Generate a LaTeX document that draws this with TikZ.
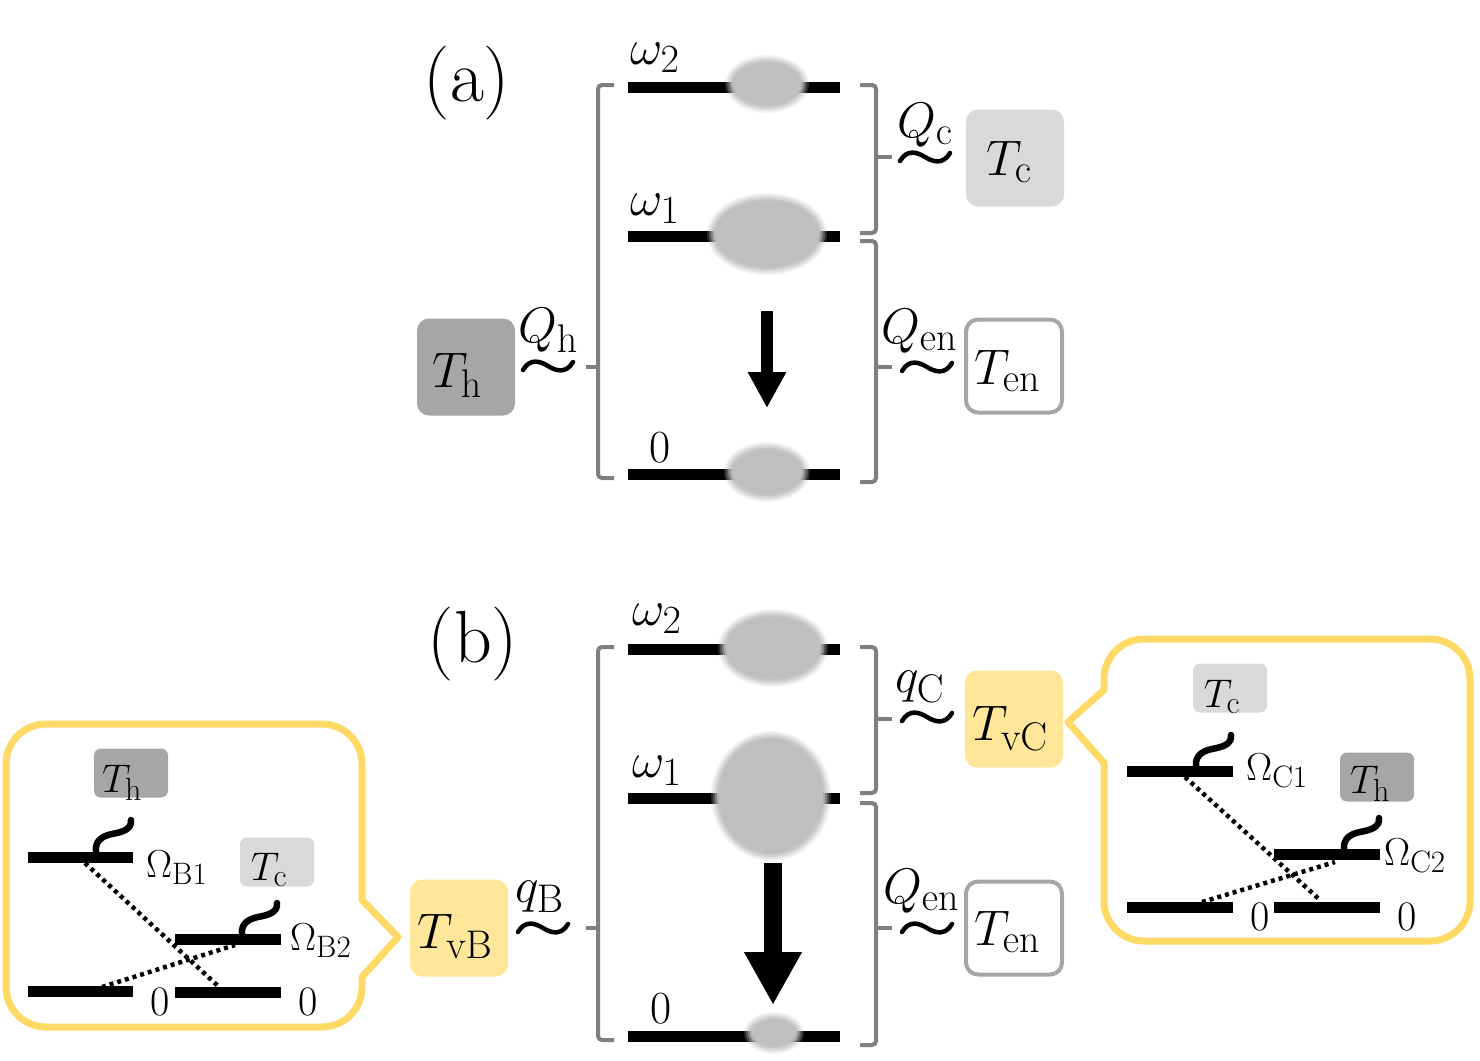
\RequirePackage{fix-cm}
\documentclass[tikz,border=0pt]{standalone}
\usetikzlibrary{arrows.meta}
\definecolor{thc}{HTML}{A6A6A6}
\definecolor{tcc}{HTML}{D9D9D9}
\definecolor{tvc}{HTML}{FFE699}
\definecolor{callc}{HTML}{FFD966}
\definecolor{brk}{HTML}{7F7F7F}
\definecolor{blobc}{HTML}{BFBFBF}
\DeclareMathSizes{50}{50}{40}{30}
\DeclareMathSizes{40}{40}{32}{24}
\DeclareMathSizes{39}{39}{31}{23}
\newcommand\fbig{\fontsize{50}{56}\selectfont}
\newcommand\fzero{\fontsize{46}{52}\selectfont}
\newcommand\fsT{\fontsize{40}{44}\selectfont}
\newcommand\fsO{\fontsize{39}{44}\selectfont}
\newcommand\fszero{\fontsize{42}{46}\selectfont}
\newcommand\fhuge{\fontsize{74}{80}\selectfont}
\newcommand\blobat[4]{\foreach \dd/\oo in {5/0.2,3/0.3,1/0.45,-1/0.7,-3/1}{\fill[blobc,opacity=\oo] (#1,#2) ellipse [x radius={#3+\dd}, y radius={#4+\dd}];}}
\newcommand\mtil[2]{\draw[tildeline, shift={(#1,#2)}] (-25,4) .. controls (-18,-8) and (-8,-5) .. (0,0) .. controls (8,5) and (18,8) .. (25,-4);}
\newcommand\ctil[2]{\draw[ctildeline, shift={(#1,#2)}] (0,0) .. controls (-1,-10) and (6,-15) .. (16,-17) .. controls (27,-19) and (36,-22) .. (35,-31);}
\begin{document}
\begin{tikzpicture}[x=1pt,y=-1pt,
  level/.style={line width=11, black},
  bracket/.style={draw=brk, line width=4, rounded corners=4},
  tick/.style={draw=brk, line width=4},
  tildeline/.style={line width=4.5, line cap=round},
  ctildeline/.style={line width=6.5, line cap=round},
  dotline/.style={line width=4.5, dash pattern=on 4pt off 4pt},
  bigbox/.style={rounded corners=12, minimum width=98, minimum height=97, inner sep=0},
  smallbox/.style={rounded corners=7, minimum width=74, minimum height=49, inner sep=0},
  lab/.style={inner sep=0, font=\fbig},
  zlab/.style={inner sep=0, font=\fzero},
  tlab/.style={inner sep=0, font=\fsT},
  olab/.style={inner sep=0, font=\fsO},
  szlab/.style={inner sep=0, font=\fszero},
  callout/.style={draw=callc, line width=7, line join=round},
]
\useasboundingbox (0,0) rectangle (1480,1060);

%% ================= panel (a) =================
\node[inner sep=0, font=\fhuge, anchor=base] (pa) at (467,101) {(a)};
% brackets
\draw[bracket] (614,85) -- (598,85) -- (598,478) -- (614,478);
\draw[tick] (598,367) -- (586,367);
\draw[bracket] (860,85) -- (876,85) -- (876,233) -- (860,233);
\draw[tick] (876,157) -- (892,157);
\draw[bracket] (860,241) -- (876,241) -- (876,482) -- (860,482);
\draw[tick] (876,367) -- (892,367);
% levels
\coordinate (a2l) at (628,87); \coordinate (a2r) at (840,87);
\coordinate (a1l) at (628,236); \coordinate (a1r) at (840,236);
\coordinate (a0l) at (628,474); \coordinate (a0r) at (840,474);
\draw[level] (a2l) -- (a2r);
\draw[level] (a1l) -- (a1r);
\draw[level] (a0l) -- (a0r);
\blobat{767}{84}{37}{24}
\blobat{767}{234}{55}{36}
\blobat{767}{472}{38}{25}
% arrow
\coordinate (aarA) at (767,311); \coordinate (aarB) at (767,408);
\draw[line width=12, -{Triangle[width=36pt,length=36pt]}] (aarA) -- (aarB);
% labels
\node[lab, anchor=base west] (w2a) at (630,64) {$\omega_2$};
\node[lab, anchor=base west] (w1a) at (630,215) {$\omega_1$};
\node[zlab, anchor=base] (z0a) at (660,462) {0};
\node[lab, anchor=base west] (Qh) at (518,342) {$Q_{\mathrm{h}}$};
\node[lab, anchor=base west] (Qc) at (897,137) {$Q_{\mathrm{c}}$};
\node[lab, anchor=base west] (Qena) at (881,343) {$Q_{\mathrm{en}}$};
\mtil{548}{366}
\mtil{925}{157}
\mtil{927}{367}
% boxes
\node[bigbox, fill=thc] (Thbox) at (466,367) {};
\node[lab, anchor=base] (Th) at (457,387) {$T_{\mathrm{h}}$};
\node[bigbox, fill=tcc] (Tcbox) at (1015,158) {};
\node[lab, anchor=base] (Tc) at (1009,175) {$T_{\mathrm{c}}$};
\node[bigbox, draw=thc, line width=4, fill=white, minimum width=96, minimum height=93] (Tenabox) at (1014,366) {};
\node[lab, anchor=base] (Tena) at (1007,384) {$T_{\mathrm{en}}$};

%% ================= panel (b) =================
\node[inner sep=0, font=\fhuge, anchor=base] (pb) at (473,662) {(b)};
\draw[bracket] (614,647) -- (598,647) -- (598,1040) -- (614,1040);
\draw[tick] (598,928) -- (586,928);
\draw[bracket] (860,647) -- (876,647) -- (876,793) -- (860,793);
\draw[tick] (876,719) -- (892,719);
\draw[bracket] (860,803) -- (876,803) -- (876,1045) -- (860,1045);
\draw[tick] (876,928) -- (892,928);
\coordinate (b2l) at (628,649); \coordinate (b2r) at (840,649);
\coordinate (b1l) at (628,798); \coordinate (b1r) at (840,798);
\coordinate (b0l) at (628,1036); \coordinate (b0r) at (840,1036);
\draw[level] (b2l) -- (b2r);
\draw[level] (b1l) -- (b1r);
\draw[level] (b0l) -- (b0r);
\blobat{773}{648}{50}{34}
\blobat{771}{796}{55}{60}
\blobat{774}{1033}{25}{16}
\coordinate (barA) at (773,863); \coordinate (barB) at (773,1005);
\draw[line width=18, -{Triangle[width=54pt,length=53pt]}] (barA) -- (barB);
\node[lab, anchor=base west] (w2b) at (632,625) {$\omega_2$};
\node[lab, anchor=base west] (w1b) at (632,777) {$\omega_1$};
\node[zlab, anchor=base] (z0b) at (661,1023) {0};
\node[lab, anchor=base west] (qB) at (515,902) {$q_{\mathrm{B}}$};
\node[lab, anchor=base west] (qC) at (895,692) {$q_{\mathrm{C}}$};
\node[lab, anchor=base west] (Qenb) at (883,903) {$Q_{\mathrm{en}}$};
\mtil{543}{928}
\mtil{927}{717}
\mtil{927}{928}
\node[bigbox, fill=tvc] (TvBbox) at (459,928) {};
\node[lab, anchor=base] (TvB) at (455,948) {$T_{\mathrm{vB}}$};
\node[bigbox, fill=tvc] (TvCbox) at (1014,719) {};
\node[lab, anchor=base] (TvC) at (1010,740) {$T_{\mathrm{vC}}$};
\node[bigbox, draw=thc, line width=4, fill=white, minimum width=96, minimum height=93] (Tenbbox) at (1014,928) {};
\node[lab, anchor=base] (Tenb) at (1007,945) {$T_{\mathrm{en}}$};

%% ================= left callout =================
\draw[callout] (398,937) -- (362,900) [rounded corners=40] -- (362,724) -- (6,724) -- (6,1027) -- (362,1027) [sharp corners] -- (362,977) -- cycle;
\node[smallbox, fill=thc] (cThLbox) at (131,773) {};
\node[tlab, anchor=base] (cThL) at (122,792) {$T_{\mathrm{h}}$};
\node[smallbox, fill=tcc] (cTcLbox) at (277,862) {};
\node[tlab, anchor=base] (cTcL) at (269,880) {$T_{\mathrm{c}}$};
\coordinate (L1a) at (28,857); \coordinate (L1b) at (133,857);
\coordinate (L2a) at (28,991); \coordinate (L2b) at (133,991);
\coordinate (L3a) at (175,939); \coordinate (L3b) at (281,939);
\coordinate (L4a) at (175,992); \coordinate (L4b) at (281,992);
\draw[level] (L1a) -- (L1b);
\draw[level] (L2a) -- (L2b);
\draw[level] (L3a) -- (L3b);
\draw[level] (L4a) -- (L4b);
\coordinate (LdA) at (85,863); \coordinate (LdB) at (218,986);
\coordinate (LdC) at (102,987); \coordinate (LdD) at (235,945);
\draw[dotline] (LdA) -- (LdB);
\draw[dotline] (LdC) -- (LdD);
\ctil{96}{851}
\ctil{242}{934}
\node[olab, anchor=base west] (OB1) at (146,877) {$\Omega_{\mathrm{B1}}$};
\node[olab, anchor=base west] (OB2) at (290,950) {$\Omega_{\mathrm{B2}}$};
\node[szlab, anchor=base] (zL1) at (160,1015) {0};
\node[szlab, anchor=base] (zL2) at (308,1015) {0};

%% ================= right callout =================
\draw[callout] (1068,722) -- (1104,690) [rounded corners=40] -- (1104,639) -- (1470,639) -- (1470,941) -- (1104,941) [sharp corners] -- (1104,763) -- cycle;
\node[smallbox, fill=tcc] (cTcRbox) at (1230,688) {};
\node[tlab, anchor=base] (cTcR) at (1222,707) {$T_{\mathrm{c}}$};
\node[smallbox, fill=thc] (cThRbox) at (1377,777) {};
\node[tlab, anchor=base] (cThR) at (1370,793) {$T_{\mathrm{h}}$};
\coordinate (R1a) at (1127,771); \coordinate (R1b) at (1233,771);
\coordinate (R2a) at (1127,907); \coordinate (R2b) at (1233,907);
\coordinate (R3a) at (1274,854); \coordinate (R3b) at (1380,854);
\coordinate (R4a) at (1274,907); \coordinate (R4b) at (1380,907);
\draw[level] (R1a) -- (R1b);
\draw[level] (R2a) -- (R2b);
\draw[level] (R3a) -- (R3b);
\draw[level] (R4a) -- (R4b);
\coordinate (RdA) at (1185,777); \coordinate (RdB) at (1320,900);
\coordinate (RdC) at (1202,902); \coordinate (RdD) at (1335,862);
\draw[dotline] (RdA) -- (RdB);
\draw[dotline] (RdC) -- (RdD);
\ctil{1196}{766}
\ctil{1344}{849}
\node[olab, anchor=base west] (OC1) at (1246,780) {$\Omega_{\mathrm{C1}}$};
\node[olab, anchor=base west] (OC2) at (1384,865) {$\Omega_{\mathrm{C2}}$};
\node[szlab, anchor=base] (zR1) at (1260,930) {0};
\node[szlab, anchor=base] (zR2) at (1407,930) {0};
\end{tikzpicture}
\end{document}
